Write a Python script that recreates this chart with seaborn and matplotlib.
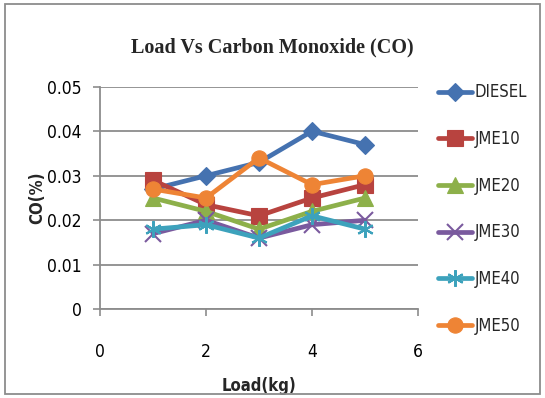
import matplotlib
matplotlib.use("Agg")
import matplotlib.pyplot as plt
import seaborn as sns
import pandas as pd
from matplotlib.patches import Rectangle

# Engine load (kg) and CO emission (%) for each fuel blend
load = [1, 2, 3, 4, 5]
diesel = [0.027, 0.030, 0.033, 0.040, 0.037]
jme10 = [0.029, 0.0235, 0.021, 0.025, 0.028]
jme20 = [0.025, 0.022, 0.018, 0.022, 0.025]
jme30 = [0.017, 0.020, 0.016, 0.019, 0.020]
jme40 = [0.018, 0.019, 0.016, 0.021, 0.018]
jme50 = [0.027, 0.025, 0.034, 0.028, 0.030]

series_names = ["DIESEL", "JME10", "JME20", "JME30", "JME40", "JME50"]
series_values = [diesel, jme10, jme20, jme30, jme40, jme50]
colors = ["#4572B0", "#B8433F", "#8DB04A", "#7A5A9E", "#3DA2BC", "#EE8435"]
markers = ["D", "s", "^", "x", (6, 2, 0), "o"]
msizes = [9.5, 11, 11, 11, 12, 11]

x_ticks = [0, 2, 4, 6]
y_ticks = [0, 0.01, 0.02, 0.03, 0.04, 0.05]
y_labels = ["0", "0.01", "0.02", "0.03", "0.04", "0.05"]

frames = []
for name, vals in zip(series_names, series_values):
    frames.append(pd.DataFrame({"Load": load, "CO": vals, "Fuel": name}))
df = pd.concat(frames, ignore_index=True)

sns.set_theme(style="white")
plt.rcParams["font.family"] = ["DejaVu Sans"]
plt.rcParams["font.stretch"] = "condensed"

fig = plt.figure(figsize=(5.45, 3.98), dpi=100)
ax = fig.add_axes([0.1835, 0.2229, 0.5835, 0.5592])

for name, col, mk, ms in zip(series_names, colors, markers, msizes):
    sub = df[df["Fuel"] == name]
    sns.lineplot(data=sub, x="Load", y="CO", ax=ax, color=col, lw=3.4,
                 marker=mk, markersize=ms, markeredgecolor=col,
                 markeredgewidth=1.5 if mk in ("x", (6, 2, 0)) else 0.8,
                 label=name, legend=False)

ax.set_xlim(0, 6)
ax.set_ylim(0, 0.05)
ax.set_xticks(x_ticks)
ax.set_xticklabels([str(t) for t in x_ticks], fontsize=12.5)
ax.set_yticks(y_ticks)
ax.set_yticklabels(y_labels, fontsize=12.5)
ax.yaxis.grid(True, color="#8C8C8C", lw=1.3)
ax.xaxis.grid(False)
for side in ["top", "right"]:
    ax.spines[side].set_visible(False)
ax.spines["left"].set_color("#8C8C8C")
ax.spines["bottom"].set_color("#8C8C8C")
ax.spines["left"].set_linewidth(1.3)
ax.spines["bottom"].set_linewidth(1.3)
ax.tick_params(axis="both", which="both", length=5, width=1.2, color="#8C8C8C",
               direction="out", left=True, bottom=True, labelcolor="black")
ax.tick_params(axis="x", pad=19)
ax.tick_params(axis="y", pad=8)

ax.set_xlabel("Load(kg)", fontsize=12, fontweight="bold", labelpad=12)
ax.set_ylabel("CO(%)", fontsize=12, fontweight="bold", labelpad=1)

fig.text(0.5, 0.881, "Load Vs Carbon Monoxide (CO)", ha="center", va="center",
         fontsize=14.5, fontweight="bold", family=["Liberation Serif", "DejaVu Serif"])

handles, labels = ax.get_legend_handles_labels()
fig.legend(handles, labels, loc="upper left", bbox_to_anchor=(0.792, 0.807),
           frameon=False, fontsize=12, handlelength=2.0, labelspacing=1.72,
           handletextpad=0.2, borderaxespad=0)

fig.patches.append(Rectangle((0.009, 0.01), 0.982, 0.98, transform=fig.transFigure,
                             fill=False, edgecolor="#8C8C8C", lw=1.3))

fig.savefig("out.png", dpi=100)
